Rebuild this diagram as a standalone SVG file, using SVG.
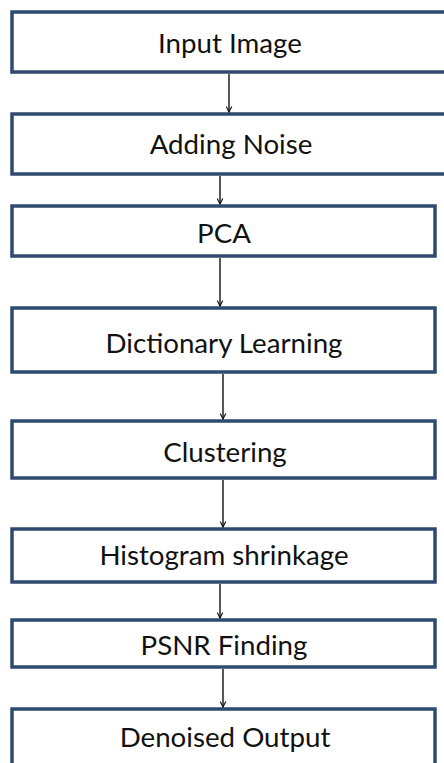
<svg xmlns="http://www.w3.org/2000/svg" width="444" height="763" viewBox="0 0 444 763">
<style>
.box{fill:#fff;stroke:#2E4A6E;stroke-width:3.5}
.lbl{font-family:Lato,"Open Sans",sans-serif;font-size:27.7px;fill:#111;text-anchor:middle}
.con{stroke:#111;stroke-width:1.4;fill:none}
</style>
<defs>
<marker id="arr" viewBox="0 0 10 10" refX="9" refY="5" markerWidth="7" markerHeight="7" markerUnits="userSpaceOnUse" orient="auto">
<path d="M1,1 L9,5 L1,9" fill="none" stroke="#111" stroke-width="1.6"/>
</marker>
</defs>
<rect width="444" height="763" fill="#fff"/>
<g id="n1"><rect class="box" x="12" y="12" width="440" height="60"/><text class="lbl" x="230" y="53">Input Image</text></g>
<g id="n2"><rect class="box" x="12" y="114" width="440" height="60"/><text class="lbl" x="231" y="154">Adding Noise</text></g>
<g id="n3"><rect class="box" x="12" y="206" width="423" height="50"/><text class="lbl" x="224" y="243">PCA</text></g>
<g id="n4"><rect class="box" x="12" y="308" width="423" height="64"/><text class="lbl" x="224" y="353">Dictionary Learning</text></g>
<g id="n5"><rect class="box" x="12" y="421" width="423" height="57"/><text class="lbl" x="225" y="462">Clustering</text></g>
<g id="n6"><rect class="box" x="12" y="529" width="423" height="53"/><text class="lbl" x="224" y="565">Histogram shrinkage</text></g>
<g id="n7"><rect class="box" x="12" y="620" width="423" height="47"/><text class="lbl" x="224" y="655">PSNR Finding</text></g>
<g id="n8"><rect class="box" x="12" y="709" width="423" height="64"/><text class="lbl" x="225" y="747">Denoised Output</text></g>
<g id="connectors">
<line class="con" x1="229" y1="74" x2="229" y2="112" marker-end="url(#arr)"/>
<line class="con" x1="220" y1="176" x2="220" y2="204" marker-end="url(#arr)"/>
<line class="con" x1="220" y1="258" x2="220" y2="306" marker-end="url(#arr)"/>
<line class="con" x1="223" y1="374" x2="223" y2="419" marker-end="url(#arr)"/>
<line class="con" x1="223" y1="480" x2="223" y2="527" marker-end="url(#arr)"/>
<line class="con" x1="220" y1="584" x2="220" y2="618" marker-end="url(#arr)"/>
<line class="con" x1="223" y1="669" x2="223" y2="707" marker-end="url(#arr)"/>
</g>
</svg>
